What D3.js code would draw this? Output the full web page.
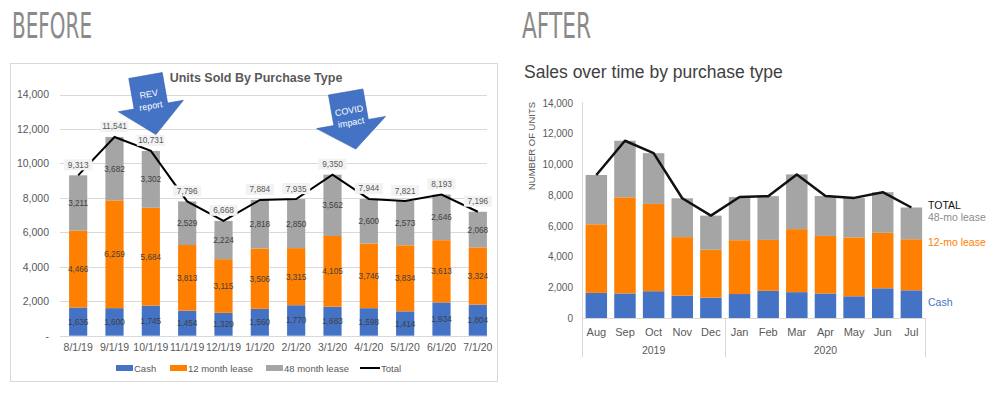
<!DOCTYPE html>
<html><head><meta charset="utf-8">
<script src="https://cdn.jsdelivr.net/npm/d3@7"></script>
<style>
html,body{margin:0;padding:0;background:#fff;}
svg{display:block;font-family:"Liberation Sans",Arial,sans-serif;}
</style></head>
<body><svg id="c" width="1000" height="397"></svg>
<script>
// ---------- DATA ----------
const dates = ["8/1/19","9/1/19","10/1/19","11/1/19","12/1/19","1/1/20","2/1/20","3/1/20","4/1/20","5/1/20","6/1/20","7/1/20"];
const months = ["Aug","Sep","Oct","Nov","Dec","Jan","Feb","Mar","Apr","May","Jun","Jul"];
const years = ["2019","2019","2019","2019","2019","2020","2020","2020","2020","2020","2020","2020"];
const cash = [1636,1600,1745,1454,1329,1560,1770,1683,1598,1414,1934,1804];
const lease12 = [4466,6259,5684,3813,3115,3506,3315,4105,3746,3834,3613,3324];
const lease48 = [3211,3682,3302,2529,2224,2818,2850,3562,2600,2573,2646,2068];
const totals = [9313,11541,10731,7796,6668,7884,7935,9350,7944,7821,8193,7196];
const yTicks = [0,2000,4000,6000,8000,10000,12000,14000];
const seriesNames = ["Cash","12 month lease","48 month lease"];
const shortNames = ["Cash","12-mo lease","48-mo lease"];
const annotations = [{text:["REV","report"], at:1}, {text:["COVID","impact"], at:7}];

const colors = ["#4472c4","#ff7f00","#a5a5a5"];
const svg = d3.select("#c");
const fmt = d3.format(",");
const series = [cash, lease12, lease48];
const stackData = dates.map((d,i)=>({i, Cash:cash[i], "12 month lease":lease12[i], "48 month lease":lease48[i]}));
const stacked = d3.stack().keys(seriesNames)(stackData);

// ---------- HEADINGS ----------
svg.append("text").attr("x",12).attr("y",38).attr("textLength",80).attr("lengthAdjust","spacingAndGlyphs")
  .style("font-family","'Liberation Sans Narrow','DejaVu Sans Condensed',sans-serif").style("font-size","36px").attr("fill","#8a8a8a").text("BEFORE");
svg.append("text").attr("x",522).attr("y",38).attr("textLength",69).attr("lengthAdjust","spacingAndGlyphs")
  .style("font-family","'Liberation Sans Narrow','DejaVu Sans Condensed',sans-serif").style("font-size","36px").attr("fill","#8a8a8a").text("AFTER");

// ---------- BEFORE CHART ----------
const B = svg.append("g");
B.append("rect").attr("x",10.5).attr("y",63.5).attr("width",487).attr("height",318).attr("fill","#fff").attr("stroke","#d9d9d9");
B.append("text").attr("x",256).attr("y",81.5).attr("text-anchor","middle").style("font-size","12.5px").style("font-weight","bold").attr("fill","#595959").text("Units Sold By Purchase Type");

const yB = d3.scaleLinear().domain([0,14000]).range([335.7,94.6]);
const xB = d3.scaleBand().domain(dates).range([60,496]).paddingInner(0.5).paddingOuter(0.25);

// gridlines
B.append("g").selectAll("line").data(yTicks).join("line")
  .attr("x1",60).attr("x2",487).attr("y1",d=>Math.round(yB(d))+0.5).attr("y2",d=>Math.round(yB(d))+0.5)
  .attr("stroke","#d9d9d9").attr("stroke-width",1);

const axL = B.append("g").attr("transform","translate(49,0)")
  .call(d3.axisLeft(yB).tickValues(yTicks).tickSize(0).tickPadding(0).tickFormat(d=>d===0?"-":fmt(d)));
axL.select(".domain").remove();
axL.selectAll("text").style("font-size","10.5px").attr("fill","#595959").style("font-family","'Liberation Sans',Arial,sans-serif");

const axB = B.append("g").attr("transform","translate(0,336)")
  .call(d3.axisBottom(xB).tickSize(0).tickPadding(8));
axB.select(".domain").remove();
axB.selectAll("text").style("font-size","10.5px").attr("fill","#595959").style("font-family","'Liberation Sans',Arial,sans-serif");

// bars
stacked.forEach((s,k)=>{
  B.append("g").selectAll("rect").data(s).join("rect")
    .attr("x",(d,i)=>xB(dates[i])).attr("width",xB.bandwidth())
    .attr("y",d=>yB(d[1])).attr("height",d=>yB(d[0])-yB(d[1])).attr("fill",colors[k]);
  B.append("g").selectAll("text").data(s).join("text")
    .attr("x",(d,i)=>xB(dates[i])+xB.bandwidth()/2).attr("y",d=>yB((d[0]+d[1])/2)+3)
    .attr("text-anchor","middle").style("font-size","8.2px").attr("fill","#404040")
    .text(d=>fmt(d[1]-d[0]));
});
// total line
const lineB = d3.line().x((d,i)=>xB(dates[i])+xB.bandwidth()/2).y(d=>yB(d));
B.append("path").datum(totals).attr("d",lineB).attr("fill","none").attr("stroke","#000").attr("stroke-width",2);
// total labels
const tl = B.append("g").selectAll("g").data(totals).join("g")
  .attr("transform",(d,i)=>`translate(${xB(dates[i])+xB.bandwidth()/2},${yB(d)-10.5})`);
tl.append("rect").attr("x",-14).attr("y",-5.5).attr("width",28).attr("height",11).attr("fill","#f2f2f2");
tl.append("text").attr("y",3).attr("text-anchor","middle").style("font-size","8.3px").attr("fill","#595959").text(d=>fmt(d));

// legend
const legB = [{x:116,t:"Cash",c:colors[0]},{x:170,t:"12 month lease",c:colors[1]},{x:266,t:"48 month lease",c:colors[2]}];
legB.forEach((l,i)=>{
  B.append("rect").attr("x",l.x).attr("y",365).attr("width",17).attr("height",6).attr("fill",l.c);
  B.append("text").attr("x",l.x+18).attr("y",371.5).style("font-size","9.5px").attr("fill","#595959").text(seriesNames[i]);
});
B.append("line").attr("x1",360).attr("x2",380).attr("y1",368).attr("y2",368).attr("stroke","#000").attr("stroke-width",2);
B.append("text").attr("x",381).attr("y",371.5).style("font-size","9.5px").attr("fill","#595959").text("Total");

// annotation arrows
const arrowSpecs = [{cx:145.5, cy:75.5, hw:17, ww:33, sl:31, len:60, rot:-10},
                    {cx:345.7, cy:92, hw:17.5, ww:35, sl:31, len:58, rot:-10}];
annotations.forEach((a,j)=>{
  const s = arrowSpecs[j];
  const g = B.append("g").attr("transform",`translate(${s.cx},${s.cy}) rotate(${s.rot})`);
  const pts = [[-s.hw,0],[s.hw,0],[s.hw,s.sl],[s.ww,s.sl],[0,s.len],[-s.ww,s.sl],[-s.hw,s.sl]];
  g.append("polygon").attr("points",pts.map(p=>p.join(",")).join(" ")).attr("fill","#4472c4").attr("stroke","#3a63ad").attr("stroke-width",0.6);
  g.append("text").attr("x",0).attr("y",22).attr("text-anchor","middle").style("font-size","9px").attr("fill","#fff").text(a.text[0]);
  g.append("text").attr("x",0).attr("y",34).attr("text-anchor","middle").style("font-size","9px").attr("fill","#fff").text(a.text[1]);
});

// ---------- AFTER CHART ----------
const A = svg.append("g");
A.append("text").attr("x",524).attr("y",78).style("font-size","17.5px").attr("fill","#404040").text("Sales over time by purchase type");

const yA = d3.scaleLinear().domain([0,14000]).range([318,103]);
const xA = d3.scaleBand().domain(months).range([582,925.7]).paddingInner(0.25).paddingOuter(0.125);

const ayL = A.append("g").attr("transform","translate(573,0)")
  .call(d3.axisLeft(yA).tickValues(yTicks).tickSize(0).tickPadding(0).tickFormat(fmt));
ayL.select(".domain").remove();
ayL.selectAll("text").style("font-size","10px").attr("fill","#595959").style("font-family","'Liberation Sans',Arial,sans-serif");

A.append("text").attr("transform","translate(535,146) rotate(-90)").attr("text-anchor","middle")
  .style("font-size","9.5px").attr("fill","#595959").text("NUMBER OF UNITS");

// axes lines
A.append("line").attr("x1",582.5).attr("x2",582.5).attr("y1",102).attr("y2",357).attr("stroke","#d9d9d9");
A.append("line").attr("x1",582).attr("x2",926).attr("y1",318.5).attr("y2",318.5).attr("stroke","#d9d9d9");

stacked.forEach((s,k)=>{
  A.append("g").selectAll("rect").data(s).join("rect")
    .attr("x",(d,i)=>xA(months[i])).attr("width",xA.bandwidth())
    .attr("y",d=>yA(d[1])).attr("height",d=>yA(d[0])-yA(d[1])).attr("fill",colors[k]);
});
const lineA = d3.line().x((d,i)=>xA(months[i])+xA.bandwidth()/2).y(d=>yA(d));
A.append("path").datum(totals).attr("d",lineA).attr("fill","none").attr("stroke","#111").attr("stroke-width",2.5).attr("stroke-linejoin","round");

// month labels
const axA = A.append("g").attr("transform","translate(0,318)").call(d3.axisBottom(xA).tickSize(0).tickPadding(10));
axA.select(".domain").remove();
axA.selectAll("text").style("font-size","11px").attr("fill","#595959").style("font-family","'Liberation Sans',Arial,sans-serif");

// year groups
const yearGroups = d3.groups(months.map((m,i)=>({m,y:years[i]})), d=>d.y);
const step = xA.step();
yearGroups.forEach(([yr,items],gi)=>{
  const first = months.indexOf(items[0].m), last = months.indexOf(items[items.length-1].m);
  const x0 = xA(months[first]) - xA.paddingInner()*step/2;
  const x1 = xA(months[last]) + xA.bandwidth() + xA.paddingInner()*step/2;
  A.append("text").attr("x",(x0+x1)/2).attr("y",354).attr("text-anchor","middle").style("font-size","10.5px").attr("fill","#595959").text(yr);
  if (gi>0) A.append("line").attr("x1",Math.round(x0)+0.5).attr("x2",Math.round(x0)+0.5).attr("y1",318).attr("y2",357).attr("stroke","#d9d9d9");
});
A.append("line").attr("x1",925.5).attr("x2",925.5).attr("y1",318).attr("y2",357).attr("stroke","#d9d9d9");

// direct labels
const L = totals.length-1;
const lx = 928;
A.append("text").attr("x",lx).attr("y",yA(totals[L])+1.5).style("font-size","10.5px").attr("fill","#111").text("TOTAL");
A.append("text").attr("x",lx).attr("y",yA(totals[L])+13.5).style("font-size","10.5px").attr("fill","#8c8c8c").text(shortNames[2]);
A.append("text").attr("x",lx).attr("y",yA(cash[L]+lease12[L])+7).style("font-size","10.5px").attr("fill",colors[1]).text(shortNames[1]);
A.append("text").attr("x",lx).attr("y",yA(cash[L]/2)+2).style("font-size","10.5px").attr("fill",colors[0]).text(shortNames[0]);
</script></body></html>
